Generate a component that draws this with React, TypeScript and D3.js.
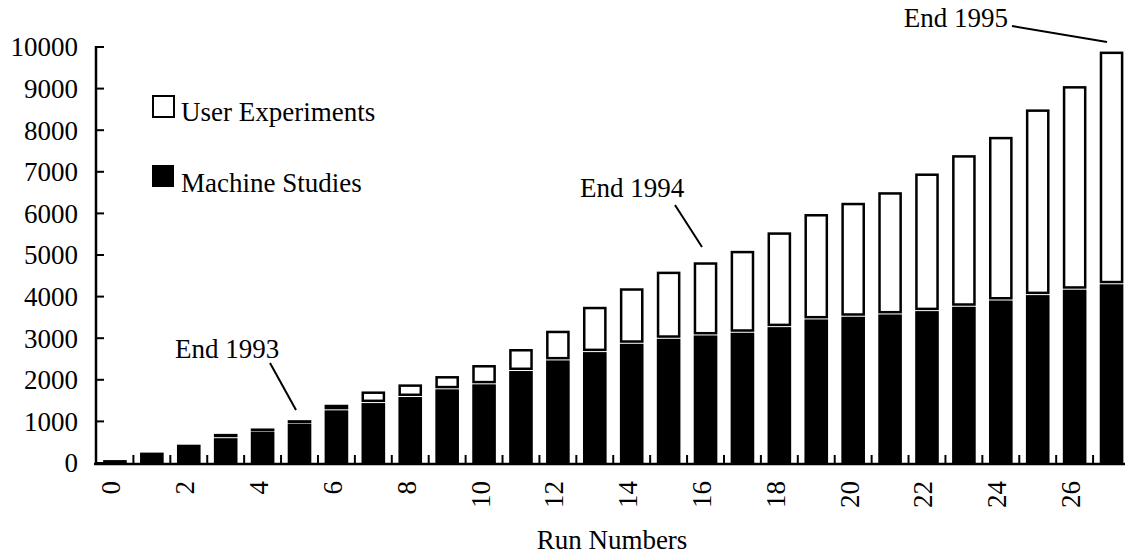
import React from "react";
import * as d3 from "d3";

const runs: number[] = d3.range(0, 28);
const machineStudies: number[] = [70, 250, 440, 620, 770, 970, 1290, 1465, 1610, 1795, 1915, 2235, 2490, 2690, 2890, 3010, 3090, 3155, 3290, 3475, 3540, 3595, 3675, 3780, 3930, 4060, 4190, 4320];
const userExperiments: number[] = [0, 0, 0, 80, 60, 60, 110, 255, 280, 295, 440, 505, 690, 1065, 1310, 1590, 1735, 1945, 2255, 2510, 2715, 2915, 3285, 3620, 3910, 4440, 4870, 5570];
const yTicks: number[] = [0, 1000, 2000, 3000, 4000, 5000, 6000, 7000, 8000, 9000, 10000];
const xTickLabels: number[] = [0, 2, 4, 6, 8, 10, 12, 14, 16, 18, 20, 22, 24, 26];
const annotations = [
  { label: "End 1993", run: 5 },
  { label: "End 1994", run: 16 },
  { label: "End 1995", run: 27 },
];

const W = 1125;
const H = 554;
const FONT = "Liberation Serif, Times New Roman, Times, DejaVu Serif, serif";
const FS = 27;

export default function App() {
  const x = d3.scaleBand<number>().domain(runs).range([96.5, 1130]).paddingInner(0.36).paddingOuter(0.18);
  const y = d3.scaleLinear().domain([0, 10000]).range([463, 47]);
  const bw = x.bandwidth();
  const step = x.step();
  const sw = 2.5;

  return (
    <div style={{ position: "absolute", left: 0, top: 0 }}>
      <svg width={W} height={H} style={{ display: "block", background: "#fff", fontFamily: FONT }}>
        {/* bars */}
        {runs.map((r, i) => {
          const m = machineStudies[i];
          const u = userExperiments[i];
          const x0 = x(r) as number;
          const yM = y(m);
          const yT = y(m + u);
          const gap = u > 0 ? 1 : 0;
          return (
            <g key={r}>
              <rect x={x0} y={yM + gap} width={bw} height={Math.max(0, y(0) - yM - gap)} fill="#000" />
              {u > 0 && (
                <rect
                  x={x0 + sw / 2}
                  y={yT + sw / 2}
                  width={bw - sw}
                  height={Math.max(0.5, yM - yT - sw)}
                  fill="#fff"
                  stroke="#000"
                  strokeWidth={sw}
                />
              )}
            </g>
          );
        })}
        {/* y axis */}
        <line x1={96} x2={96} y1={y(10000) - 1} y2={y(0) + 1} stroke="#000" strokeWidth={2.5} />
        {yTicks.map((t) => (
          <g key={t}>
            <line x1={96} x2={104} y1={y(t)} y2={y(t)} stroke="#000" strokeWidth={2} />
            <text x={78} y={y(t)} dy="0.35em" textAnchor="end" fontSize={FS}>
              {t}
            </text>
          </g>
        ))}
        {/* x axis */}
        <line x1={94} x2={W} y1={y(0) + 1} y2={y(0) + 1} stroke="#000" strokeWidth={2.5} />
        {runs.slice(1).map((r) => {
          const tx = (x(r) as number) - (step - bw) / 2;
          return <line key={r} x1={tx} x2={tx} y1={y(0)} y2={y(0) - 8} stroke="#000" strokeWidth={2} />;
        })}
        {xTickLabels.map((t) => {
          const cx = (x(t) as number) + bw / 2 - 4;
          return (
            <text key={t} transform={`translate(${cx},481) rotate(-90)`} dy="0.35em" textAnchor="end" fontSize={FS}>
              {t}
            </text>
          );
        })}
        <text x={612} y={549} textAnchor="middle" fontSize={FS}>
          Run Numbers
        </text>
        {/* legend */}
        <rect x={153} y={96} width={21} height={21} fill="#fff" stroke="#000" strokeWidth={2} />
        <text x={181} y={112} dy="0.35em" fontSize={FS}>User Experiments</text>
        <rect x={152} y={165} width={22} height={22} fill="#000" />
        <text x={181} y={183} dy="0.35em" fontSize={FS}>Machine Studies</text>
        {/* annotations */}
        <text x={175} y={358} fontSize={FS}>{annotations[0].label}</text>
        <line x1={270} y1={363} x2={296} y2={410} stroke="#000" strokeWidth={2} />
        <text x={580} y={197} fontSize={FS}>{annotations[1].label}</text>
        <line x1={675} y1={205} x2={702} y2={247} stroke="#000" strokeWidth={2} />
        <text x={1008} y={27} textAnchor="end" fontSize={FS}>{annotations[2].label}</text>
        <line x1={1012} y1={26} x2={1107} y2={42} stroke="#000" strokeWidth={2} />
      </svg>
    </div>
  );
}
